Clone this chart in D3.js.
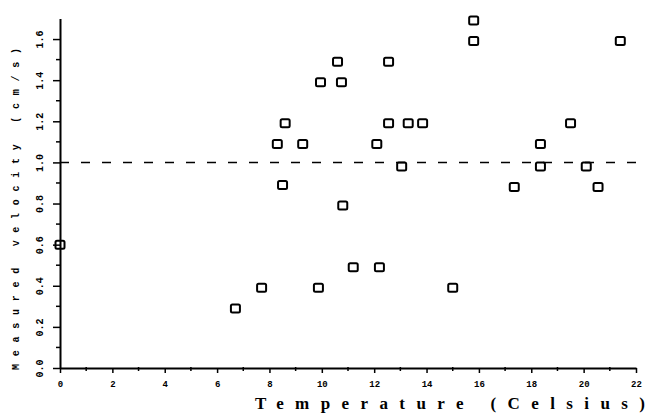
<!DOCTYPE html>
<html>
<head>
<meta charset="utf-8">
<script src="https://cdn.jsdelivr.net/npm/d3@7"></script>
<style>
body { margin: 0; background: #fff; }
svg { display: block; }
</style>
</head>
<body>
<div id="chart"></div>
<script>
var width = 651,
    height = 419;

// temperature (Celsius) and measured velocity (cm/s)
var temps = [0, 6.7, 7.7, 8.3, 8.5, 8.6, 9.27, 9.87, 9.95, 10.6,
             10.75, 10.8, 11.2, 12.1, 12.2, 12.55, 12.55, 13.05, 13.3, 13.85,
             15.0, 15.8, 15.8, 17.35, 18.35, 18.35, 19.5, 20.1, 20.55, 21.4];
var velocities = [0.60, 0.29, 0.39, 1.09, 0.89, 1.19, 1.09, 0.39, 1.39, 1.49,
                  1.39, 0.79, 0.49, 1.09, 0.49, 1.49, 1.19, 0.98, 1.19, 1.19,
                  0.39, 1.69, 1.59, 0.88, 1.09, 0.98, 1.19, 0.98, 0.88, 1.59];
var xTicks = [0, 2, 4, 6, 8, 10, 12, 14, 16, 18, 20, 22];
var yTicks = [0.0, 0.2, 0.4, 0.6, 0.8, 1.0, 1.2, 1.4, 1.6];
var reference = 1.0;

var data = temps.map(function(t, i) { return { t: t, v: velocities[i] }; });

var svg = d3.select("#chart").append("svg")
    .attr("width", width)
    .attr("height", height);

var xScale = d3.scaleLinear().domain([0, 22]).range([60, 636]);
var yScale = d3.scaleLinear().domain([0, 1.7]).range([368, 18.5]);

// x axis
var xAxis = d3.axisBottom(xScale)
    .tickValues(xTicks)
    .tickFormat(d3.format("d"))
    .tickSize(5)
    .tickPadding(8)
    .tickSizeOuter(0);

var gx = svg.append("g")
    .attr("transform", "translate(0," + yScale(0) + ")")
    .call(xAxis);
gx.select(".domain").attr("stroke-width", 2);
gx.selectAll(".tick line").attr("stroke-width", 1.5);
gx.selectAll("text")
    .attr("font-family", "Liberation Mono")
    .attr("font-weight", "bold")
    .attr("font-size", 9);

// minor x ticks
svg.append("g").selectAll("line")
    .data(d3.range(1, 22, 2))
    .enter().append("line")
    .attr("x1", function(d) { return xScale(d); })
    .attr("x2", function(d) { return xScale(d); })
    .attr("y1", yScale(0) - 1)
    .attr("y2", yScale(0) + 3)
    .attr("stroke", "#000")
    .attr("stroke-width", 1.5);

// y axis
var yAxis = d3.axisLeft(yScale)
    .tickValues(yTicks)
    .tickFormat(d3.format(".1f"))
    .tickSize(7)
    .tickSizeOuter(0);

var gy = svg.append("g")
    .attr("transform", "translate(" + xScale(0) + ",0)")
    .call(yAxis);
gy.select(".domain").attr("stroke-width", 2);
gy.selectAll(".tick line").attr("stroke-width", 1.5);
gy.selectAll("text")
    .attr("font-family", "Liberation Mono")
    .attr("font-weight", "bold")
    .attr("font-size", 10)
    .attr("text-anchor", "middle")
    .attr("x", 0)
    .attr("dy", 0)
    .attr("transform", "translate(-20,0) rotate(-90)")
    .attr("y", 3);

// minor y ticks
svg.append("g").selectAll("line")
    .data(d3.range(0.1, 1.7, 0.2))
    .enter().append("line")
    .attr("x1", xScale(0) - 4)
    .attr("x2", xScale(0))
    .attr("y1", function(d) { return yScale(d); })
    .attr("y2", function(d) { return yScale(d); })
    .attr("stroke", "#000")
    .attr("stroke-width", 1.5);

// dashed reference line at 1.0
svg.append("line")
    .attr("x1", xScale(0))
    .attr("x2", xScale(22))
    .attr("y1", yScale(reference))
    .attr("y2", yScale(reference))
    .attr("stroke", "#000")
    .attr("stroke-width", 1.5)
    .attr("stroke-dasharray", "9,12");

// points
svg.append("g").selectAll("rect")
    .data(data)
    .enter().append("rect")
    .attr("x", function(d) { return xScale(d.t) - 4.5; })
    .attr("y", function(d) { return yScale(d.v) - 4; })
    .attr("width", 9)
    .attr("height", 8)
    .attr("rx", 1.5)
    .attr("fill", "none")
    .attr("stroke", "#000")
    .attr("stroke-width", 2);

// axis titles
svg.append("text")
    .attr("x", 255)
    .attr("y", 409)
    .attr("textLength", 390)
    .attr("lengthAdjust", "spacing")
    .attr("font-family", "Liberation Serif")
    .attr("font-weight", "bold")
    .attr("font-size", 17)
    .text("Temperature (Celsius)");

svg.append("text")
    .attr("transform", "translate(19,370) rotate(-90)")
    .attr("textLength", 322)
    .attr("lengthAdjust", "spacing")
    .attr("font-family", "Liberation Mono")
    .attr("font-weight", "bold")
    .attr("font-size", 10)
    .text("Measured velocity (cm/s)");
</script>
</body>
</html>
